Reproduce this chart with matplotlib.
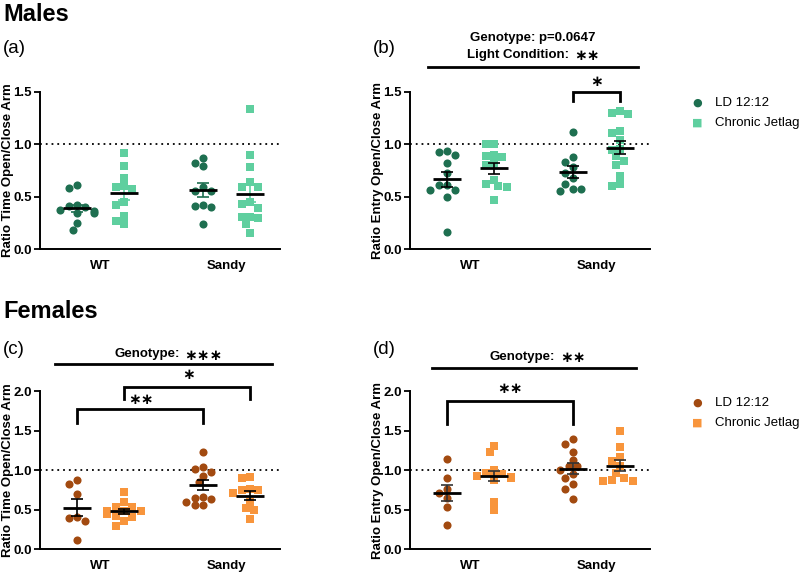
import numpy as np
import matplotlib
matplotlib.use("Agg")
import matplotlib.pyplot as plt

plt.rcParams['font.family'] = ['Liberation Sans', 'DejaVu Sans']

groups = ["WT", "Sandy"]
conds = ["LD 12:12", "Chronic Jetlag"]

# males, time ratio
m_time_wt_ld = [0.58, 0.61, 0.40, 0.42, 0.41, 0.37, 0.36, 0.34, 0.34, 0.25, 0.18]
m_time_wt_cj = [0.92, 0.79, 0.675, 0.57, 0.60, 0.59, 0.42, 0.45, 0.32, 0.27, 0.24]
m_time_sa_ld = [0.87, 0.79, 0.82, 0.55, 0.59, 0.55, 0.40, 0.42, 0.41, 0.235]
m_time_sa_cj = [1.34, 0.90, 0.78, 0.64, 0.59, 0.59, 0.395, 0.43, 0.445, 0.30, 0.31, 0.31, 0.24, 0.15]
# males, entry ratio
m_entry_wt_ld = [0.90, 0.94, 0.93, 0.82, 0.73, 0.615, 0.61, 0.56, 0.56, 0.50, 0.16]
m_entry_wt_cj = [1.0, 1.0, 0.89, 0.90, 0.88, 0.82, 0.80, 0.66, 0.62, 0.59, 0.60, 0.47]
m_entry_sa_ld = [1.115, 0.88, 0.835, 0.78, 0.73, 0.675, 0.62, 0.55, 0.57, 0.57]
m_entry_sa_cj = [1.32, 1.29, 1.295, 1.11, 1.13, 1.04, 0.89, 0.96, 0.95, 0.84, 0.80, 0.70, 0.60, 0.625]
# females, time ratio
f_time_wt_ld = [0.825, 0.875, 0.70, 0.41, 0.39, 0.35, 0.12]
f_time_wt_cj = [0.72, 0.59, 0.53, 0.53, 0.48, 0.48, 0.48, 0.42, 0.44, 0.41, 0.355, 0.29]
f_time_sa_ld = [1.23, 1.02, 1.04, 0.98, 0.93, 0.85, 0.65, 0.63, 0.66, 0.555, 0.56, 0.60]
f_time_sa_cj = [0.905, 0.91, 0.765, 0.745, 0.745, 0.71, 0.60, 0.52, 0.49, 0.38]
# females, entry ratio
f_entry_wt_ld = [1.14, 0.90, 0.76, 0.715, 0.645, 0.53, 0.31]
f_entry_wt_cj = [1.31, 1.23, 1.0, 0.96, 0.95, 0.92, 0.91, 0.90, 0.90, 0.88, 0.60, 0.50]
f_entry_sa_ld = [1.39, 1.33, 1.23, 1.13, 1.05, 1.0, 1.05, 0.95, 0.905, 0.825, 0.76, 0.63]
f_entry_sa_cj = [1.50, 1.29, 1.17, 1.12, 1.05, 0.96, 0.86, 0.90, 0.86, 0.87]

male_dark, male_light = "#1e6f50", "#5fcf9f"
fem_dark, fem_light = "#a24a10", "#f8953c"

xpos = [0, 1, 2.68, 3.68]
PPU_X = 47.0


def swarm(vals, ppu_y, d=7.4, step=4.2, maxoff=19):
    vals = np.asarray(vals)
    offs = np.zeros(len(vals))
    placed = []
    cands = [0.0]
    for k in range(1, 8):
        cands += [-k * step, k * step]
    cands = [c for c in cands if abs(c) <= maxoff]
    for i in np.argsort(vals)[::-1]:
        y = vals[i] * ppu_y
        best = None
        for c in cands:
            if all((c - px) ** 2 + (y - py) ** 2 >= d ** 2 for px, py in placed):
                best = c
                break
        if best is None:
            best = cands[len(placed) % len(cands)]
        placed.append((best, y))
        offs[i] = best / PPU_X
    return offs


def panel(ax, data, colors, ymax, ppu_y, err_col=None):
    markers = ["o", "s", "o", "s"]
    for x, vals, col, mk in zip(xpos, data, colors, markers):
        vals = np.asarray(vals)
        off = swarm(vals, ppu_y)
        ax.scatter(x + off, vals, s=34 if mk == "o" else 30, marker=mk, color=col,
                   linewidths=0, zorder=3)
        m = vals.mean()
        sem = vals.std(ddof=1) / np.sqrt(len(vals))
        ec = col if err_col is None else err_col
        ax.errorbar(x, m, yerr=sem, fmt="none", ecolor=ec, elinewidth=1.2,
                    capsize=4.5, capthick=1.2, zorder=4)
        ax.plot([x - 0.3, x + 0.3], [m, m], color="black", lw=2, zorder=5,
                solid_capstyle="butt")
    ax.axhline(1.0, color="black", ls=(0, (1, 2.2)), lw=1.3, zorder=1)
    ax.set_xlim(-0.79, 4.32)
    ax.set_ylim(0, ymax)
    ticks = np.arange(0, ymax + 0.01, 0.5)
    ax.set_yticks(ticks)
    ax.set_yticklabels([f"{v:.1f}" for v in ticks], fontweight="bold", fontsize=9.5)
    ax.set_xticks([0.5, 3.18])
    ax.set_xticklabels(groups, fontweight="bold", fontsize=9.5)
    ax.tick_params(axis="x", length=0, pad=8)
    ax.tick_params(axis="y", length=4, width=1.3, pad=2)
    for s in ["top", "right"]:
        ax.spines[s].set_visible(False)
    for s in ["left", "bottom"]:
        ax.spines[s].set_linewidth(1.4)
    ax.patch.set_alpha(0)


def star(ax, x, y, n, ha="center"):
    ax.text(x, y, "∗" * n, ha=ha, va="center", fontsize=11,
            fontweight="bold", clip_on=False, family=["DejaVu Sans"])


def stat_text(ax, x_right, y, label, n):
    ax.text(x_right, y, label, ha="right", va="center", fontsize=9.5,
            fontweight="bold", clip_on=False)
    star(ax, x_right + 0.1, y - 0.01, n, ha="left")


def bracket(ax, x0, x1, ytop, yleg):
    ax.plot([x0, x0, x1, x1], [yleg, ytop, ytop, yleg], color="black", lw=2,
            clip_on=False, solid_joinstyle="miter")


def legend(fig, y0, col_d, col_l):
    fig.text(0.8713, y0, "●", color=col_d, fontsize=8, ha="center", va="center",
             family=["DejaVu Sans"])
    fig.text(0.8713, y0 - 0.035, "■", color=col_l, fontsize=8, ha="center", va="center",
             family=["DejaVu Sans"])
    fig.text(0.894, y0, conds[0], fontsize=9.5, va="center")
    fig.text(0.894, y0 - 0.035, conds[1], fontsize=9.5, va="center")


fig = plt.figure(figsize=(8, 5.73), dpi=100)
W, H = 800.0, 573.0

axa = fig.add_axes([40 / W, 1 - 249 / H, 240 / W, 157 / H])
axb = fig.add_axes([410 / W, 1 - 249 / H, 240 / W, 157 / H])
axc = fig.add_axes([40 / W, 1 - 549 / H, 240 / W, 157.7 / H])
axd = fig.add_axes([410 / W, 1 - 549 / H, 240 / W, 157.7 / H])

panel(axa, [m_time_wt_ld, m_time_wt_cj, m_time_sa_ld, m_time_sa_cj],
      [male_dark, male_light, male_dark, male_light], 1.5, 104.7)
panel(axb, [m_entry_wt_ld, m_entry_wt_cj, m_entry_sa_ld, m_entry_sa_cj],
      [male_dark, male_light, male_dark, male_light], 1.5, 104.7, err_col="black")
panel(axc, [f_time_wt_ld, f_time_wt_cj, f_time_sa_ld, f_time_sa_cj],
      [fem_dark, fem_light, fem_dark, fem_light], 2.0, 78.8, err_col="black")
panel(axd, [f_entry_wt_ld, f_entry_wt_cj, f_entry_sa_ld, f_entry_sa_cj],
      [fem_dark, fem_light, fem_dark, fem_light], 2.0, 78.8, err_col="#333333")

for ax, lab in [(axa, "Ratio Time Open/Close Arm"), (axb, "Ratio Entry Open/Close Arm"),
                (axc, "Ratio Time Open/Close Arm"), (axd, "Ratio Entry Open/Close Arm")]:
    ax.set_ylabel(lab, fontweight="bold", fontsize=9.5)
    ax.yaxis.set_label_coords(-0.108, 0.5)

# panel b annotations
axb.plot([-0.40, 4.06], [1.74, 1.74], color="black", lw=2, clip_on=False)
axb.text(1.83, 2.02, "Genotype: p=0.0647", ha="center", va="center",
         fontsize=9.5, fontweight="bold", clip_on=False)
stat_text(axb, 2.60, 1.855, "Light Condition:", 2)
bracket(axb, xpos[2], xpos[3], 1.5, 1.41)
star(axb, 3.18, 1.6, 1)

# panel c annotations
axc.plot([-0.47, 4.15], [2.34, 2.34], color="black", lw=2, clip_on=False)
stat_text(axc, 2.19, 2.47, "Genotype:", 3)
bracket(axc, xpos[0], xpos[2], 1.77, 1.595)
star(axc, 1.36, 1.89, 2)
bracket(axc, xpos[1], xpos[3], 2.06, 1.90)
star(axc, 2.38, 2.21, 1)

# panel d annotations
axd.plot([-0.32, 4.02], [2.30, 2.30], color="black", lw=2, clip_on=False)
stat_text(axd, 2.30, 2.44, "Genotype:", 2)
bracket(axd, xpos[0], xpos[2], 1.88, 1.58)
star(axd, 1.34, 2.03, 2)

fig.text(0.004, 0.975, "Males", fontsize=17, fontweight="bold", va="center")
fig.text(0.004, 0.915, "(a)", fontsize=13.5, va="center")
fig.text(0.466, 0.915, "(b)", fontsize=13.5, va="center")
fig.text(0.004, 0.457, "Females", fontsize=17, fontweight="bold", va="center")
fig.text(0.004, 0.390, "(c)", fontsize=13.5, va="center")
fig.text(0.466, 0.390, "(d)", fontsize=13.5, va="center")

legend(fig, 1 - 103 / H, male_dark, male_light)
legend(fig, 1 - 403 / H, fem_dark, fem_light)

fig.savefig("out.png", dpi=100)
